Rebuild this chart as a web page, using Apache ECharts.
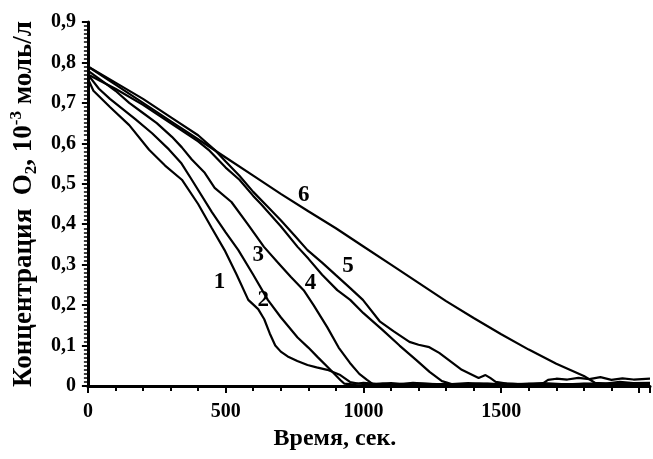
<!DOCTYPE html>
<html>
<head>
<meta charset="utf-8">
<script src="https://cdn.jsdelivr.net/npm/echarts@6/dist/echarts.min.js"></script>
<style>
    html, body { margin: 0; padding: 0; background: #fff; }
    #chart { width: 653px; height: 459px; }
</style>
</head>
<body>
<div id="chart"></div>
<script>
// время, сек. / концентрация O2 для каждой кривой
var t1 = [0, 20, 80, 150, 222, 280, 341, 400, 450, 496, 540, 582, 618, 640, 660, 680, 700, 725, 760, 797, 830, 869, 916, 951, 980, 1030, 1100, 1180, 1260, 1350, 1450, 1550, 1650, 1750, 1850, 1950, 2040];
var c1 = [0.76, 0.73, 0.69, 0.645, 0.584, 0.545, 0.51, 0.45, 0.39, 0.336, 0.275, 0.213, 0.19, 0.165, 0.13, 0.1, 0.085, 0.073, 0.062, 0.052, 0.046, 0.04, 0.027, 0.01, 0.006, 0.004, 0.007, 0.003, 0.005, 0.004, 0.006, 0.003, 0.005, 0.004, 0.006, 0.004, 0.005];

var t2 = [0, 40, 80, 172, 233, 294, 340, 377, 450, 500, 546, 600, 653, 700, 761, 800, 833, 880, 916, 930, 960, 1000, 1060, 1120, 1200, 1300, 1400, 1500, 1600, 1700, 1800, 1900, 2040];
var c2 = [0.77, 0.735, 0.71, 0.66, 0.625, 0.585, 0.55, 0.51, 0.43, 0.38, 0.336, 0.275, 0.213, 0.17, 0.12, 0.095, 0.072, 0.04, 0.015, 0.006, 0.004, 0.008, 0.005, 0.003, 0.006, 0.004, 0.005, 0.003, 0.006, 0.004, 0.005, 0.003, 0.005];

var t3 = [0, 50, 100, 150, 200, 250, 305, 341, 377, 424, 460, 521, 580, 639, 690, 736, 783, 819, 869, 910, 951, 985, 1013, 1035, 1070, 1120, 1180, 1250, 1330, 1420, 1500, 1600, 1700, 1800, 1900, 2040];
var c3 = [0.78, 0.755, 0.73, 0.70, 0.675, 0.65, 0.616, 0.59, 0.56, 0.527, 0.49, 0.455, 0.40, 0.344, 0.305, 0.27, 0.237, 0.20, 0.145, 0.095, 0.057, 0.03, 0.015, 0.004, 0.006, 0.004, 0.008, 0.005, 0.004, 0.006, 0.004, 0.005, 0.003, 0.006, 0.004, 0.005];

var t4 = [0, 100, 200, 300, 400, 438, 500, 550, 600, 628, 700, 761, 800, 850, 905, 952, 1000, 1070, 1131, 1192, 1240, 1285, 1320, 1380, 1450, 1520, 1600, 1650, 1670, 1700, 1740, 1780, 1820, 1860, 1900, 1940, 1980, 2040];
var c4 = [0.77, 0.735, 0.695, 0.65, 0.605, 0.584, 0.54, 0.51, 0.47, 0.45, 0.395, 0.344, 0.315, 0.275, 0.237, 0.213, 0.18, 0.138, 0.10, 0.064, 0.035, 0.012, 0.005, 0.007, 0.004, 0.006, 0.004, 0.006, 0.015, 0.018, 0.016, 0.02, 0.017, 0.022, 0.015, 0.019, 0.016, 0.018];

var t5 = [0, 100, 200, 300, 400, 460, 500, 550, 600, 650, 700, 750, 797, 850, 900, 952, 998, 1059, 1110, 1167, 1200, 1239, 1275, 1310, 1357, 1418, 1443, 1460, 1480, 1520, 1580, 1650, 1720, 1800, 1880, 1960, 2040];
var c5 = [0.79, 0.75, 0.71, 0.665, 0.62, 0.584, 0.555, 0.52, 0.48, 0.445, 0.41, 0.372, 0.336, 0.305, 0.274, 0.242, 0.213, 0.16, 0.135, 0.109, 0.102, 0.096, 0.082, 0.064, 0.04, 0.02, 0.027, 0.02, 0.01, 0.006, 0.004, 0.007, 0.005, 0.004, 0.006, 0.004, 0.005];

var t6 = [0, 100, 200, 300, 400, 500, 600, 700, 800, 900, 1000, 1100, 1200, 1300, 1400, 1500, 1600, 1700, 1800, 1840, 1880, 1930, 1980, 2040];
var c6 = [0.79, 0.745, 0.70, 0.655, 0.61, 0.565, 0.52, 0.475, 0.432, 0.39, 0.345, 0.30, 0.255, 0.21, 0.168, 0.128, 0.09, 0.055, 0.025, 0.008, 0.006, 0.01, 0.007, 0.008];

// номера кривых и где они подписаны (в координатах данных)
var curveNames = ['1', '2', '3', '4', '5', '6'];
var labelT = [478, 636, 618, 808, 944, 783];
var labelC = [0.257, 0.213, 0.324, 0.255, 0.297, 0.472];

var xTicks = [0, 500, 1000, 1500];

var allT = [t1, t2, t3, t4, t5, t6];
var allC = [c1, c2, c3, c4, c5, c6];

var serif = '"Liberation Serif", "Times New Roman", serif';

var chart = echarts.init(document.getElementById('chart'));

var series = [];
for (var i = 0; i < curveNames.length; i++) {
    var pts = allT[i].map(function (t, j) { return [t, allC[i][j]]; });
    series.push({
        name: curveNames[i],
        type: 'line',
        data: pts,
        showSymbol: false,
        silent: true,
        lineStyle: { color: '#000', width: 2.2 },
        markPoint: {
            symbol: 'circle',
            symbolSize: 0,
            silent: true,
            label: {
                show: true,
                position: 'inside',
                formatter: curveNames[i],
                color: '#000',
                fontFamily: serif,
                fontWeight: 'bold',
                fontSize: 23
            },
            data: [{ coord: [labelT[i], labelC[i]] }]
        }
    });
}

var option = {
    animation: false,
    backgroundColor: '#fff',
    grid: { left: 85, right: 0, top: 22, bottom: 73, containLabel: false },
    xAxis: {
        type: 'value',
        min: 0,
        max: 2040,
        interval: 500,
        name: 'Время, сек.',
        nameLocation: 'middle',
        nameGap: 41,
        nameTextStyle: {
            color: '#000', fontFamily: serif, fontWeight: 'bold', fontSize: 24,
            padding: [0, 68, 0, 0]
        },
        axisLine: { lineStyle: { color: '#000', width: 3 } },
        axisTick: { length: 7, lineStyle: { color: '#000', width: 2 } },
        minorTick: { show: true, splitNumber: 5, length: 5, lineStyle: { color: '#000', width: 2 } },
        splitLine: { show: false },
        axisLabel: {
            margin: 16,
            color: '#000', fontFamily: serif, fontWeight: 'bold', fontSize: 20,
            formatter: function (v) { return xTicks.indexOf(v) >= 0 ? String(v) : ''; }
        }
    },
    yAxis: {
        type: 'value',
        min: 0,
        max: 0.9,
        interval: 0.1,
        name: '{a|Концентрация  O}{b|2}{a|, 10}{c|-3}{a| моль/л}',
        nameLocation: 'middle',
        nameGap: 46,
        nameTextStyle: {
            color: '#000',
            rich: {
                a: { fontFamily: serif, fontWeight: 'bold', fontSize: 27, lineHeight: 32, color: '#000' },
                b: { fontFamily: serif, fontWeight: 'bold', fontSize: 17, lineHeight: 12, verticalAlign: 'bottom', color: '#000' },
                c: { fontFamily: serif, fontWeight: 'bold', fontSize: 17, lineHeight: 12, verticalAlign: 'top', color: '#000' }
            }
        },
        axisLine: { show: true, lineStyle: { color: '#000', width: 3 } },
        axisTick: { show: true, length: 6, lineStyle: { color: '#000', width: 2 } },
        minorTick: { show: true, splitNumber: 10, length: 4, lineStyle: { color: '#000', width: 1.5 } },
        splitLine: { show: false },
        axisLabel: {
            margin: 12,
            color: '#000', fontFamily: serif, fontWeight: 'bold', fontSize: 20,
            formatter: function (v) { return v === 0 ? '0' : v.toFixed(1).replace('.', ','); }
        }
    },
    series: series
};

chart.setOption(option);
</script>
</body>
</html>
